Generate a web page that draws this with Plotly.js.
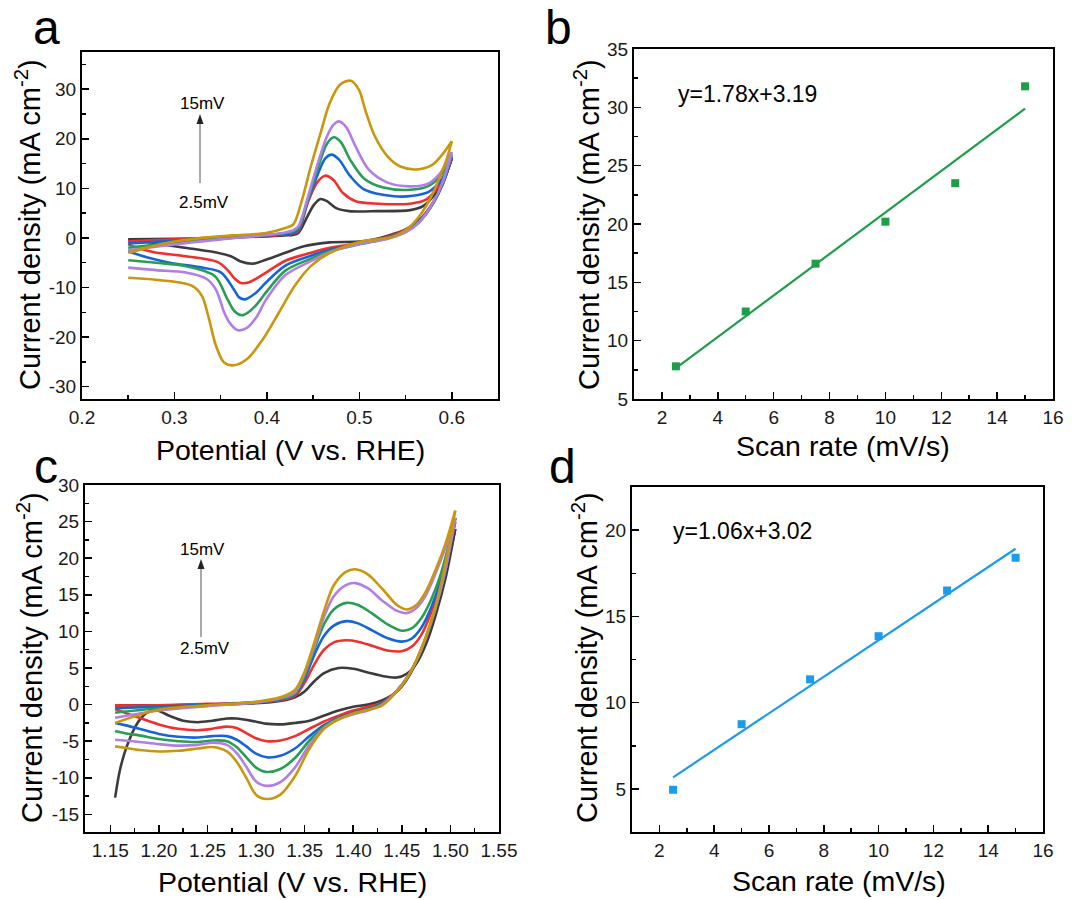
<!DOCTYPE html>
<html>
<head>
<meta charset="utf-8">
<script src="https://cdn.plot.ly/plotly-3.0.1.min.js"></script>
<style>html,body{margin:0;padding:0;background:#fff;}#chart{width:1089px;height:900px;}</style>
</head>
<body>
<div id="chart"></div>
<script>
// ---------------- Panel a: CV curves (potential V vs RHE, current density mA cm-2)
const scanRates = [2.5, 5, 7.5, 10, 12.5, 15];
const curveColors = ['#3c3c3c', '#f0302c', '#1565d9', '#2a9d55', '#b07ee6', '#c9960c'];

const a1_fx = [0.25,0.30,0.35,0.40,0.42,0.428,0.434,0.444,0.451,0.458,0.465,0.475,0.489,0.52,0.555,0.569,0.583,0.592,0.60];
const a1_fy = [-0.3,-0.2,0.0,0.3,0.5,0.6,1.0,4.4,6.7,7.85,7.4,6.0,5.4,5.4,5.6,6.4,9.1,12.0,16.0];
const a1_rx = [0.60,0.59,0.58,0.565,0.55,0.53,0.503,0.468,0.44,0.42,0.399,0.385,0.371,0.361,0.344,0.323,0.30,0.278,0.26,0.25];
const a1_ry = [16.0,10.8,7.2,3.6,1.7,0.4,-0.7,-0.9,-1.7,-3.0,-4.4,-5.2,-4.7,-3.7,-2.9,-2.3,-1.7,-1.0,-0.6,-0.5];

const a2_fx = [0.25,0.30,0.35,0.40,0.42,0.428,0.434,0.444,0.454,0.463,0.472,0.482,0.496,0.52,0.555,0.572,0.586,0.594,0.60];
const a2_fy = [-0.7,-0.3,0.1,0.4,0.7,0.9,1.3,7.0,11.1,12.55,11.7,9.1,7.4,6.9,6.9,7.7,10.4,13.0,16.3];
const a2_rx = [0.60,0.59,0.58,0.565,0.55,0.53,0.503,0.468,0.4475,0.42,0.399,0.3886,0.38,0.372,0.365,0.358,0.347,0.3125,0.278,0.26,0.25];
const a2_ry = [16.3,10.8,7.2,3.5,1.6,0.2,-1.0,-2.0,-3.0,-4.6,-7.0,-8.2,-9.0,-9.1,-8.2,-6.6,-4.9,-3.7,-2.9,-2.0,-1.3];

const a3_fx = [0.25,0.30,0.35,0.40,0.42,0.428,0.434,0.444,0.455,0.463,0.47,0.478,0.49,0.505,0.5376,0.558,0.575,0.588,0.595,0.60];
const a3_fy = [-1.1,-0.6,0.0,0.5,0.8,1.0,1.6,7.3,12.8,16.0,16.8,15.8,12.5,9.8,8.4,8.5,9.3,11.5,13.8,16.3];
const a3_rx = [0.60,0.59,0.58,0.565,0.55,0.53,0.503,0.468,0.4475,0.42,0.399,0.3886,0.3765,0.37,0.3643,0.3505,0.33,0.295,0.27,0.25];
const a3_ry = [16.3,10.8,7.0,3.3,1.4,0.0,-1.1,-2.4,-3.6,-5.6,-9.0,-11.0,-12.4,-12.0,-10.4,-7.0,-6.0,-5.0,-3.9,-2.7];

const a4_fx = [0.25,0.30,0.35,0.40,0.42,0.428,0.434,0.444,0.455,0.465,0.4725,0.48,0.49,0.505,0.525,0.555,0.575,0.588,0.595,0.60];
const a4_fy = [-2.0,-1.0,-0.2,0.6,1.0,1.3,2.0,7.5,14.0,19.0,20.3,19.3,15.8,12.0,10.2,9.7,10.5,12.5,14.5,16.8];
const a4_rx = [0.60,0.59,0.58,0.565,0.55,0.53,0.503,0.468,0.4475,0.42,0.399,0.3886,0.38,0.373,0.365,0.3574,0.3436,0.3124,0.28,0.25];
const a4_ry = [16.8,11.0,7.0,3.2,1.2,-0.1,-1.2,-2.7,-4.2,-6.6,-11.0,-13.5,-15.0,-15.6,-14.8,-12.4,-7.7,-5.7,-5.0,-4.5];

const a5_fx = [0.25,0.30,0.35,0.40,0.42,0.428,0.434,0.444,0.455,0.465,0.472,0.478,0.486,0.495,0.51,0.53,0.555,0.575,0.588,0.595,0.60];
const a5_fy = [-2.5,-1.3,-0.3,0.6,1.1,1.5,2.3,8.0,15.0,20.5,22.8,23.5,22.3,18.8,13.8,11.2,10.4,11.0,13.2,15.5,17.3];
const a5_rx = [0.60,0.59,0.58,0.565,0.55,0.53,0.503,0.468,0.4475,0.42,0.399,0.3886,0.378,0.368,0.36,0.354,0.345,0.335,0.3124,0.28,0.25];
const a5_ry = [17.3,11.2,7.2,3.2,1.1,-0.2,-1.1,-2.9,-4.7,-7.5,-12.5,-16.0,-18.2,-18.6,-17.2,-15.1,-10.5,-8.3,-7.0,-6.5,-6.0];

const a6_fx = [0.25,0.295,0.33,0.364,0.399,0.42,0.4285,0.437,0.4475,0.458,0.468,0.479,0.4908,0.4995,0.5064,0.5168,0.5307,0.5445,0.5618,0.5792,0.5896,0.60];
const a6_fy = [-3.0,-0.9,0.0,0.5,1.0,2.0,2.7,7.0,14.4,21.1,27.2,30.9,31.7,29.9,25.8,20.5,16.4,14.4,13.8,14.8,16.8,19.5];
const a6_rx = [0.60,0.593,0.5722,0.555,0.5376,0.503,0.4683,0.4475,0.43,0.4129,0.3955,0.3782,0.3643,0.354,0.345,0.3366,0.3297,0.3193,0.302,0.2777,0.25];
const a6_ry = [19.5,15.1,6.4,2.3,0.3,-0.7,-3.0,-5.7,-9.7,-15.1,-20.5,-24.5,-25.7,-25.2,-21.8,-15.8,-11.7,-9.7,-8.9,-8.4,-8.05];

// ---------------- Panel c: CV curves
const c1_fx = [1.155,1.20,1.25,1.30,1.325,1.34,1.35,1.36,1.37,1.385,1.40,1.415,1.43,1.445,1.455,1.465,1.475,1.485,1.495,1.505];
const c1_fy = [-0.1,-0.1,0.0,0.2,0.5,1.0,1.8,3.2,4.3,5.0,4.9,4.4,3.9,3.7,4.2,5.6,8.3,12.3,17.3,24.0];
const c1_rx = [1.505,1.495,1.485,1.475,1.465,1.455,1.445,1.43,1.415,1.40,1.385,1.37,1.355,1.34,1.325,1.31,1.295,1.28,1.27,1.255,1.24,1.225,1.212,1.198,1.188,1.178,1.167,1.16,1.155];
const c1_ry = [24.0,18.0,12.8,8.8,5.8,3.4,1.8,0.6,0.0,-0.3,-0.8,-1.5,-2.2,-2.5,-2.7,-2.6,-2.2,-1.9,-1.9,-2.2,-2.4,-2.2,-1.6,-0.8,-1.1,-2.5,-5.7,-8.9,-12.7];

const cFwdX = [1.155,1.20,1.25,1.30,1.325,1.34,1.35,1.36,1.37,1.38,1.393,1.405,1.42,1.435,1.45,1.46,1.47,1.48,1.49,1.505];
const cFwdX2 = [1.155,1.20,1.25,1.30,1.325,1.34,1.35,1.36,1.37,1.38,1.392,1.402,1.415,1.43,1.445,1.455,1.465,1.475,1.485,1.495,1.505];
const cRevX = [1.505,1.495,1.485,1.475,1.465,1.455,1.445,1.43,1.415,1.40,1.385,1.37,1.355,1.34,1.325,1.311,1.30,1.29,1.28,1.27,1.255,1.24,1.22,1.20,1.18,1.165,1.155];

const c2_fy = [-0.1,-0.1,0.1,0.3,0.6,1.2,3.0,5.5,7.5,8.5,8.8,8.6,8.0,7.4,7.3,7.9,9.5,12.5,16.5,25.0];
const c2_ry = [25.0,18.5,13.3,9.2,6.0,3.6,1.9,0.3,-0.3,-0.8,-1.5,-2.3,-3.3,-4.3,-4.9,-5.0,-4.6,-3.9,-3.2,-3.0,-3.3,-3.5,-3.3,-2.7,-1.8,-1.1,-0.6];

const c3_fy = [-0.5,-0.3,0.0,0.3,0.7,1.4,3.6,6.8,9.4,10.8,11.4,11.1,10.1,9.1,8.6,9.0,10.5,13.2,17.0,25.5];
const c3_ry = [25.5,18.5,13.3,9.2,6.0,3.6,1.9,0.2,-0.6,-1.1,-1.8,-2.8,-4.3,-6.0,-7.0,-7.2,-6.7,-5.7,-4.8,-4.3,-4.3,-4.5,-4.4,-4.0,-3.3,-2.8,-2.5];

const c4_fy = [-1.1,-0.5,-0.1,0.3,0.8,1.5,4.0,7.6,11.0,13.0,13.9,13.6,12.4,11.0,10.1,10.4,11.8,14.3,17.8,25.5];
const c4_ry = [25.5,18.5,13.3,9.2,6.0,3.6,1.9,0.1,-0.7,-1.2,-1.9,-3.0,-4.9,-7.3,-8.8,-9.2,-8.6,-7.2,-5.8,-5.0,-4.9,-5.1,-5.0,-4.7,-4.2,-3.9,-3.6];

const c5_fy = [-1.8,-0.8,-0.2,0.3,0.9,1.7,4.3,8.0,12.0,14.8,16.3,16.6,15.9,14.2,12.8,12.5,13.2,15.0,18.0,21.5,25.5];
const c5_ry = [25.5,18.5,13.3,9.2,6.0,3.6,1.9,0.0,-0.8,-1.3,-2.0,-3.2,-5.5,-8.6,-10.6,-11.1,-10.5,-8.5,-6.6,-5.5,-5.2,-5.5,-5.6,-5.4,-5.1,-4.9,-4.8];

const c6_fy = [-2.5,-0.7,-0.1,0.4,1.0,2.0,4.5,8.5,12.8,16.3,18.1,18.5,17.8,15.8,13.6,13.0,13.6,15.5,18.5,22.0,26.5];
const c6_ry = [26.5,19.3,13.6,9.4,6.1,3.6,1.8,-0.1,-0.7,-1.2,-2.0,-3.3,-6.0,-9.8,-12.3,-12.9,-12.3,-10.0,-7.8,-6.4,-5.8,-6.0,-6.3,-6.4,-6.2,-5.9,-5.7];

// ---------------- Panels b and d: peak current vs scan rate
const scanRateX = [2.5, 5, 7.5, 10, 12.5, 15];
const bPeakY = [7.8, 12.5, 16.6, 20.2, 23.5, 31.8];
const dPeakY = [4.95, 8.75, 11.35, 13.85, 16.5, 18.4];
const bFit = {slope: 1.78, intercept: 3.19};
const dFit = {slope: 1.06, intercept: 3.02};
const bEquation = 'y=1.78x+3.19';
const dEquation = 'y=1.06x+3.02';

// tick labels
const aYTickVals = [-30,-20,-10,0,10,20,30];
const aYTickText = ['-30','-20','-10','0','10','20','30'];
const aXTickVals = [0.2,0.3,0.4,0.5,0.6];
const aXTickText = ['0.2','0.3','0.4','0.5','0.6'];
const cYTickVals = [-15,-10,-5,0,5,10,15,20,25,30];
const cYTickText = ['-15','-10','-5','0','5','10','15','20','25','30'];
const cXTickVals = [1.15,1.20,1.25,1.30,1.35,1.40,1.45,1.50,1.55];
const cXTickText = ['1.15','1.20','1.25','1.30','1.35','1.40','1.45','1.50','1.55'];

const yTitle = 'Current density (mA cm<sup>-2</sup>)';
const potTitle = 'Potential (V vs. RHE)';
const rateTitle = 'Scan rate (mV/s)';

// ---------------- build
const FONT = 'Arial, "Liberation Sans", sans-serif';
const W = 1089, H = 900;
const px = v => v / W;
const py = v => 1 - v / H;

const traces = [];
const aSets = [[a1_fx,a1_fy,a1_rx,a1_ry],[a2_fx,a2_fy,a2_rx,a2_ry],[a3_fx,a3_fy,a3_rx,a3_ry],[a4_fx,a4_fy,a4_rx,a4_ry],[a5_fx,a5_fy,a5_rx,a5_ry],[a6_fx,a6_fy,a6_rx,a6_ry]];
const cSets = [[c1_fx,c1_fy,c1_rx,c1_ry],[cFwdX,c2_fy,cRevX,c2_ry],[cFwdX,c3_fy,cRevX,c3_ry],[cFwdX,c4_fy,cRevX,c4_ry],[cFwdX2,c5_fy,cRevX,c5_ry],[cFwdX2,c6_fy,cRevX,c6_ry]];

function addCV(sets, xa, ya) {
  sets.forEach((s, i) => {
    const line = {color: curveColors[i], width: 2.6, shape: 'spline', smoothing: 0.9};
    traces.push({x: s[0], y: s[1], xaxis: xa, yaxis: ya, mode: 'lines', line: line, hoverinfo: 'skip', name: scanRates[i] + ' mV/s'});
    traces.push({x: s[2], y: s[3], xaxis: xa, yaxis: ya, mode: 'lines', line: line, hoverinfo: 'skip', name: scanRates[i] + ' mV/s'});
  });
}
addCV(aSets, 'x', 'y');
addCV(cSets, 'x3', 'y3');

function addFit(yv, fit, color, xa, ya) {
  const fx = [scanRateX[0], scanRateX[scanRateX.length - 1]];
  traces.push({x: fx, y: fx.map(v => fit.slope * v + fit.intercept), xaxis: xa, yaxis: ya, mode: 'lines', line: {color: color, width: 2.2}, hoverinfo: 'skip'});
  traces.push({x: scanRateX, y: yv, xaxis: xa, yaxis: ya, mode: 'markers', marker: {symbol: 'square', size: 8, color: color}, hoverinfo: 'skip'});
}
addFit(bPeakY, bFit, '#1f9e4a', 'x2', 'y2');
addFit(dPeakY, dFit, '#1b9be9', 'x4', 'y4');

function ax(extra) {
  return Object.assign({
    showline: true, linecolor: '#000', linewidth: 2, mirror: true,
    ticks: 'inside', ticklen: 7, tickwidth: 1.5, tickcolor: '#000',
    showgrid: false, zeroline: false,
    tickfont: {family: FONT, size: 19, color: '#1a1a1a'},
    fixedrange: true
  }, extra);
}
const minor = d => ({ticks: 'inside', ticklen: 4, tickwidth: 1.5, tickcolor: '#000', dtick: d, showgrid: false});

const layout = {
  width: W, height: H,
  margin: {l: 0, r: 0, t: 0, b: 0},
  paper_bgcolor: '#fff', plot_bgcolor: '#fff',
  showlegend: false,
  font: {family: FONT, color: '#000'},
  xaxis: ax({domain: [px(82), px(498)], anchor: 'y', range: [0.2, 0.65], tickmode: 'array', tickvals: aXTickVals, ticktext: aXTickText, minor: Object.assign(minor(0.05), {tick0: 0})}),
  yaxis: ax({domain: [py(399), py(52)], anchor: 'x', range: [-32.5, 37.5], tickmode: 'array', tickvals: aYTickVals, ticktext: aYTickText, minor: Object.assign(minor(5), {tick0: 0})}),
  xaxis2: ax({domain: [px(634), px(1053)], anchor: 'y2', range: [1, 16], dtick: 2, tick0: 0, minor: minor(1)}),
  yaxis2: ax({domain: [py(399), py(49)], anchor: 'x2', range: [5, 35], dtick: 5, tick0: 0, minor: minor(2.5)}),
  xaxis3: ax({domain: [px(85), px(499)], anchor: 'y3', range: [1.124, 1.55], tickmode: 'array', tickvals: cXTickVals, ticktext: cXTickText, minor: Object.assign(minor(0.025), {tick0: 1.15})}),
  yaxis3: ax({domain: [py(832), py(485)], anchor: 'x3', range: [-17.4, 30], tickmode: 'array', tickvals: cYTickVals, ticktext: cYTickText, minor: Object.assign(minor(2.5), {tick0: 0})}),
  xaxis4: ax({domain: [px(632), px(1043)], anchor: 'y4', range: [1, 16], dtick: 2, tick0: 0, minor: minor(1)}),
  yaxis4: ax({domain: [py(832), py(487)], anchor: 'x4', range: [2.5, 22.5], dtick: 5, tick0: 0, minor: minor(2.5)}),
  annotations: [],
  shapes: []
};

function txt(t, x, y, size, extra) {
  layout.annotations.push(Object.assign({text: t, xref: 'paper', yref: 'paper', x: px(x), y: py(y), xanchor: 'center', yanchor: 'middle', showarrow: false, font: {family: FONT, size: size, color: '#000'}}, extra || {}));
}
// axis titles
txt(yTitle, 28, 225, 29, {textangle: -90});
txt(potTitle, 290, 450, 28.5);
txt(yTitle, 587, 225, 29, {textangle: -90});
txt(rateTitle, 843, 446, 28.5);
txt(yTitle, 30, 658, 29, {textangle: -90});
txt(potTitle, 292, 882, 28.5);
txt(yTitle, 585, 658, 29, {textangle: -90});
txt(rateTitle, 839, 881, 28.5);
// panel letters
txt('a', 46, 28, 48);
txt('b', 558, 28, 48);
txt('c', 46, 466, 48);
txt('d', 562, 466, 48);
// scan rate labels & arrows
txt('15mV', 202, 104, 17);
txt('2.5mV', 204, 202, 17);
txt('15mV', 203, 549, 17);
txt('2.5mV', 205, 648, 17);
function arrow(x, yHead, yTail) {
  layout.shapes.push({type: 'line', xref: 'paper', yref: 'paper', x0: px(x), x1: px(x), y0: py(yTail), y1: py(yHead + 8), line: {color: '#555', width: 1}});
  layout.shapes.push({type: 'path', xref: 'paper', yref: 'paper',
    path: 'M ' + px(x) + ' ' + py(yHead) + ' L ' + px(x - 3.5) + ' ' + py(yHead + 10) + ' L ' + px(x + 3.5) + ' ' + py(yHead + 10) + ' Z',
    fillcolor: '#222', line: {width: 0}});
}
arrow(200, 114, 183);
arrow(201, 559, 637);
// equations
txt(bEquation, 747, 94, 23);
txt(dEquation, 742, 531, 23);

Plotly.newPlot('chart', traces, layout, {staticPlot: true, displayModeBar: false});
</script>
</body>
</html>
